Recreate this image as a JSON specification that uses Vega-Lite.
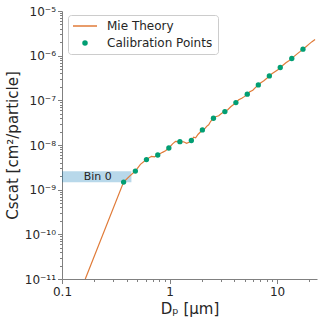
{
  "$schema": "https://vega.github.io/schema/vega-lite/v6.json",
  "width": 255,
  "height": 268,
  "autosize": {"type": "none"},
  "padding": {"left": 62, "top": 11, "right": 3, "bottom": 41},
  "background": "white",
  "config": {
    "font": "DejaVu Sans",
    "view": {"stroke": null},
    "axis": {
      "grid": false,
      "domainColor": "#808080",
      "domainWidth": 1,
      "tickColor": "#808080",
      "tickWidth": 1,
      "labelColor": "#262626",
      "labelFontSize": 12,
      "titleColor": "#262626",
      "titleFontSize": 15,
      "titleFontWeight": "normal",
      "labelOverlap": false,
      "labelFlush": false
    }
  },
  "datasets": {
    "mie": [
      {"x": 0.1646, "y": 1e-11, "series": "Mie Theory"},
      {"x": 0.374, "y": 1.48e-9, "series": "Mie Theory"},
      {"x": 0.423, "y": 1.99e-9, "series": "Mie Theory"},
      {"x": 0.481, "y": 2.61e-9, "series": "Mie Theory"},
      {"x": 0.536, "y": 3.69e-9, "series": "Mie Theory"},
      {"x": 0.610, "y": 4.71e-9, "series": "Mie Theory"},
      {"x": 0.679, "y": 5.58e-9, "series": "Mie Theory"},
      {"x": 0.725, "y": 5.43e-9, "series": "Mie Theory"},
      {"x": 0.777, "y": 5.97e-9, "series": "Mie Theory"},
      {"x": 0.860, "y": 6.85e-9, "series": "Mie Theory"},
      {"x": 0.918, "y": 7.41e-9, "series": "Mie Theory"},
      {"x": 0.985, "y": 8.57e-9, "series": "Mie Theory"},
      {"x": 1.067, "y": 1.06e-8, "series": "Mie Theory"},
      {"x": 1.137, "y": 1.21e-8, "series": "Mie Theory"},
      {"x": 1.248, "y": 1.19e-8, "series": "Mie Theory"},
      {"x": 1.351, "y": 1.18e-8, "series": "Mie Theory"},
      {"x": 1.441, "y": 1.09e-8, "series": "Mie Theory"},
      {"x": 1.520, "y": 1.15e-8, "series": "Mie Theory"},
      {"x": 1.595, "y": 1.26e-8, "series": "Mie Theory"},
      {"x": 1.675, "y": 1.49e-8, "series": "Mie Theory"},
      {"x": 1.748, "y": 1.45e-8, "series": "Mie Theory"},
      {"x": 1.845, "y": 1.74e-8, "series": "Mie Theory"},
      {"x": 2.02, "y": 2.17e-8, "series": "Mie Theory"},
      {"x": 2.121, "y": 2.31e-8, "series": "Mie Theory"},
      {"x": 2.214, "y": 2.62e-8, "series": "Mie Theory"},
      {"x": 2.311, "y": 2.84e-8, "series": "Mie Theory"},
      {"x": 2.413, "y": 3.40e-8, "series": "Mie Theory"},
      {"x": 2.56, "y": 3.97e-8, "series": "Mie Theory"},
      {"x": 2.686, "y": 4.28e-8, "series": "Mie Theory"},
      {"x": 2.865, "y": 4.52e-8, "series": "Mie Theory"},
      {"x": 3.056, "y": 5.14e-8, "series": "Mie Theory"},
      {"x": 3.27, "y": 5.61e-8, "series": "Mie Theory"},
      {"x": 3.476, "y": 6.15e-8, "series": "Mie Theory"},
      {"x": 3.707, "y": 7.20e-8, "series": "Mie Theory"},
      {"x": 3.913, "y": 7.96e-8, "series": "Mie Theory"},
      {"x": 4.14, "y": 8.93e-8, "series": "Mie Theory"},
      {"x": 4.402, "y": 1.03e-7, "series": "Mie Theory"},
      {"x": 4.694, "y": 1.11e-7, "series": "Mie Theory"},
      {"x": 4.954, "y": 1.21e-7, "series": "Mie Theory"},
      {"x": 5.28, "y": 1.37e-7, "series": "Mie Theory"},
      {"x": 5.577, "y": 1.56e-7, "series": "Mie Theory"},
      {"x": 5.947, "y": 1.68e-7, "series": "Mie Theory"},
      {"x": 6.277, "y": 1.92e-7, "series": "Mie Theory"},
      {"x": 6.69, "y": 2.21e-7, "series": "Mie Theory"},
      {"x": 7.063, "y": 2.48e-7, "series": "Mie Theory"},
      {"x": 7.534, "y": 2.75e-7, "series": "Mie Theory"},
      {"x": 8.035, "y": 3.13e-7, "series": "Mie Theory"},
      {"x": 8.47, "y": 3.52e-7, "series": "Mie Theory"},
      {"x": 8.944, "y": 3.94e-7, "series": "Mie Theory"},
      {"x": 9.539, "y": 4.38e-7, "series": "Mie Theory"},
      {"x": 10.17, "y": 4.85e-7, "series": "Mie Theory"},
      {"x": 10.7, "y": 5.43e-7, "series": "Mie Theory"},
      {"x": 11.33, "y": 6.12e-7, "series": "Mie Theory"},
      {"x": 12.08, "y": 6.97e-7, "series": "Mie Theory"},
      {"x": 12.88, "y": 7.73e-7, "series": "Mie Theory"},
      {"x": 13.7, "y": 8.65e-7, "series": "Mie Theory"},
      {"x": 14.50, "y": 9.75e-7, "series": "Mie Theory"},
      {"x": 15.47, "y": 1.11e-6, "series": "Mie Theory"},
      {"x": 16.32, "y": 1.23e-6, "series": "Mie Theory"},
      {"x": 17.4, "y": 1.40e-6, "series": "Mie Theory"},
      {"x": 18.57, "y": 1.59e-6, "series": "Mie Theory"},
      {"x": 19.81, "y": 1.81e-6, "series": "Mie Theory"},
      {"x": 21.12, "y": 2.06e-6, "series": "Mie Theory"},
      {"x": 22.53, "y": 2.31e-6, "series": "Mie Theory"}
    ],
    "cal": [
      {"x": 0.374, "y": 1.48e-9, "series": "Calibration Points"},
      {"x": 0.481, "y": 2.61e-9, "series": "Calibration Points"},
      {"x": 0.610, "y": 4.71e-9, "series": "Calibration Points"},
      {"x": 0.777, "y": 5.97e-9, "series": "Calibration Points"},
      {"x": 0.985, "y": 8.57e-9, "series": "Calibration Points"},
      {"x": 1.248, "y": 1.19e-8, "series": "Calibration Points"},
      {"x": 1.595, "y": 1.26e-8, "series": "Calibration Points"},
      {"x": 2.02, "y": 2.17e-8, "series": "Calibration Points"},
      {"x": 2.56, "y": 3.97e-8, "series": "Calibration Points"},
      {"x": 3.27, "y": 5.61e-8, "series": "Calibration Points"},
      {"x": 4.14, "y": 8.93e-8, "series": "Calibration Points"},
      {"x": 5.28, "y": 1.37e-7, "series": "Calibration Points"},
      {"x": 6.69, "y": 2.21e-7, "series": "Calibration Points"},
      {"x": 8.47, "y": 3.52e-7, "series": "Calibration Points"},
      {"x": 10.7, "y": 5.43e-7, "series": "Calibration Points"},
      {"x": 13.7, "y": 8.65e-7, "series": "Calibration Points"},
      {"x": 17.4, "y": 1.40e-6, "series": "Calibration Points"}
    ],
    "bin": [
      {"x": 0.1, "x2": 0.442, "y": 1.47e-9, "y2": 2.57e-9}
    ],
    "binlabel": [
      {"x": 0.215, "y": 1.94e-9, "label": "Bin 0"}
    ]
  },
  "encoding": {
    "x": {
      "field": "x", "type": "quantitative",
      "scale": {"type": "log", "domain": [0.1, 23.5], "nice": false},
      "axis": {
        "title": "Dₚ [μm]",
        "values": [0.1, 0.2, 0.3, 0.4, 0.5, 0.6, 0.7, 0.8, 0.9, 1, 2, 3, 4, 5, 6, 7, 8, 9, 10, 20],
        "labelExpr": "abs(datum.value - 0.1) < 1e-6 ? '0.1' : abs(datum.value - 1) < 1e-6 ? '1' : abs(datum.value - 10) < 1e-6 ? '10' : ''",
        "tickSize": {"condition": {"test": "abs(log(datum.value)/LN10 - round(log(datum.value)/LN10)) < 0.01", "value": 4.5}, "value": 2.5},
        "labelPadding": 2.5,
        "titlePadding": 4
      }
    },
    "y": {
      "field": "y", "type": "quantitative",
      "scale": {"type": "log", "domain": [1e-11, 1e-5], "nice": false},
      "axis": {
        "title": "Cscat [cm²/particle]",
        "values": [1e-11, 2e-11, 3e-11, 4e-11, 5e-11, 6e-11, 7e-11, 8e-11, 9e-11,
                   1e-10, 2e-10, 3e-10, 4e-10, 5e-10, 6e-10, 7e-10, 8e-10, 9e-10,
                   1e-9, 2e-9, 3e-9, 4e-9, 5e-9, 6e-9, 7e-9, 8e-9, 9e-9,
                   1e-8, 2e-8, 3e-8, 4e-8, 5e-8, 6e-8, 7e-8, 8e-8, 9e-8,
                   1e-7, 2e-7, 3e-7, 4e-7, 5e-7, 6e-7, 7e-7, 8e-7, 9e-7,
                   1e-6, 2e-6, 3e-6, 4e-6, 5e-6, 6e-6, 7e-6, 8e-6, 9e-6, 1e-5],
        "labelExpr": "abs(log(datum.value)/LN10 - round(log(datum.value)/LN10)) > 0.01 ? '' : round(log(datum.value)/LN10) == -11 ? '10⁻¹¹' : round(log(datum.value)/LN10) == -10 ? '10⁻¹⁰' : round(log(datum.value)/LN10) == -9 ? '10⁻⁹' : round(log(datum.value)/LN10) == -8 ? '10⁻⁸' : round(log(datum.value)/LN10) == -7 ? '10⁻⁷' : round(log(datum.value)/LN10) == -6 ? '10⁻⁶' : '10⁻⁵'",
        "tickSize": {"condition": {"test": "abs(log(datum.value)/LN10 - round(log(datum.value)/LN10)) < 0.01", "value": 4.5}, "value": 2.5},
        "labelPadding": 2,
        "titlePadding": 4
      }
    }
  },
  "layer": [
    {
      "data": {"name": "bin"},
      "mark": {"type": "rect", "color": "#0173b2", "opacity": 0.28},
      "encoding": {
        "x2": {"field": "x2"},
        "y2": {"field": "y2"}
      }
    },
    {
      "data": {"name": "binlabel"},
      "mark": {"type": "text", "fontSize": 11, "color": "#262626", "align": "center", "baseline": "middle"},
      "encoding": {
        "text": {"field": "label"}
      }
    },
    {
      "data": {"name": "mie"},
      "mark": {"type": "line", "strokeWidth": 1.2, "clip": true},
      "encoding": {
        "color": {
          "field": "series", "type": "nominal",
          "scale": {"domain": ["Mie Theory", "Calibration Points"], "range": ["#e07b39", "#029e73"]},
          "legend": {
            "title": null,
            "orient": "none",
            "legendX": 6,
            "legendY": 4,
            "padding": 5,
            "strokeColor": "#cccccc",
            "fillColor": "white",
            "cornerRadius": 3,
            "labelFontSize": 12,
            "labelColor": "#262626",
            "symbolSize": 30,
            "labelOffset": 22,
            "rowPadding": 5,
            "encode": {
              "symbols": {
                "update": {
                  "shape": {"signal": "datum.value === 'Mie Theory' ? 'stroke' : 'circle'"},
                  "size": {"signal": "datum.value === 'Mie Theory' ? 576 : 30"},
                  "x": {"value": 12},
                  "stroke": {"signal": "datum.value === 'Mie Theory' ? '#e07b39' : '#029e73'"},
                  "strokeWidth": {"signal": "datum.value === 'Mie Theory' ? 1.5 : 0"},
                  "fill": {"signal": "datum.value === 'Mie Theory' ? 'transparent' : '#029e73'"},
                  "opacity": {"value": 1},
                  "strokeDash": {"value": []}
                }
              }
            }
          }
        }
      }
    },
    {
      "data": {"name": "cal"},
      "mark": {"type": "point", "filled": true, "opacity": 1, "size": 28},
      "encoding": {
        "color": {"field": "series", "type": "nominal", "legend": null}
      }
    }
  ]
}
